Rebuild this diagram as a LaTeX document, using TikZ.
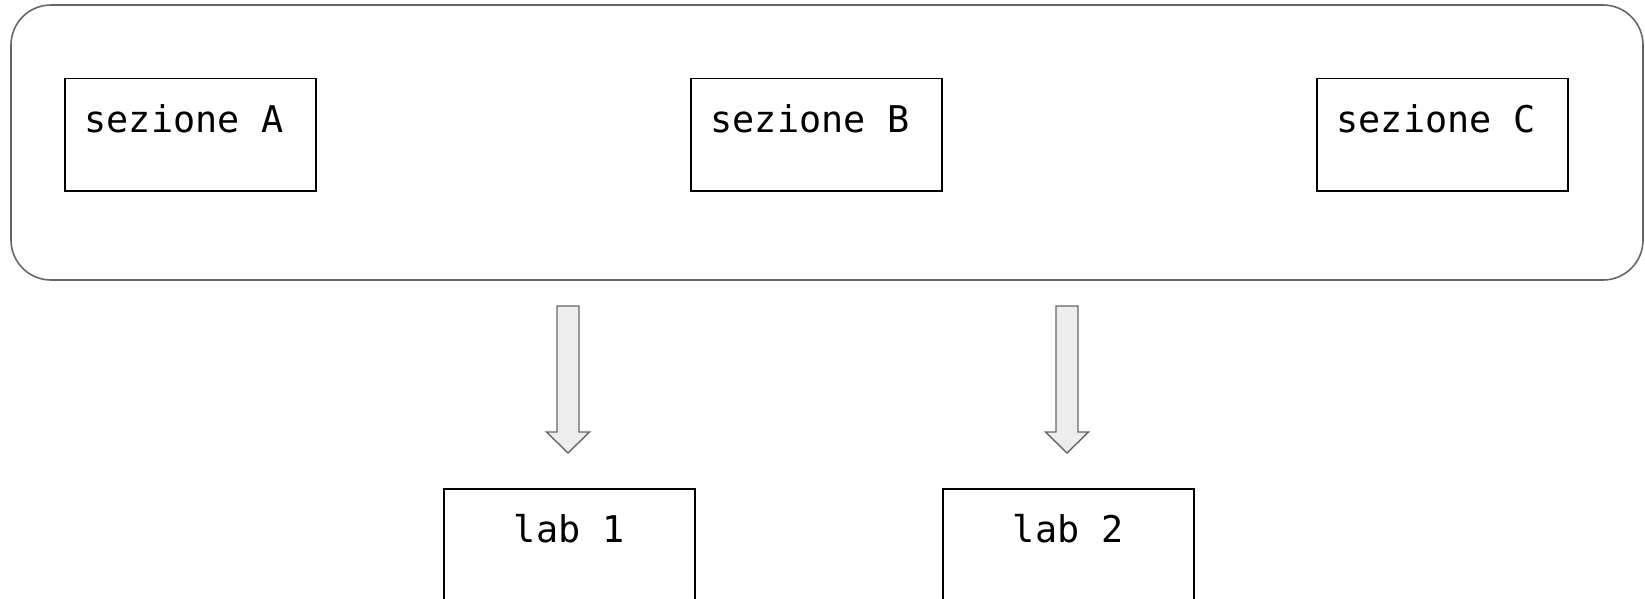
\documentclass[tikz,border=0pt]{standalone}
\usepackage{fontspec}
\newfontfamily\monof{DejaVu Sans Mono}
\begin{document}
\begin{tikzpicture}[x=1pt,y=-1pt,
  box/.style={draw=black,line width=1.5pt,fill=white,minimum width=251pt,minimum height=112pt,inner sep=0pt,anchor=north west},
  lbl/.style={font=\monof\fontsize{36.8}{40}\selectfont,anchor=base,inner sep=0pt,text=black},
  outer/.style={draw=black!60,line width=1.6pt,rounded corners=40pt},
  blockarrow/.style={draw=black!60,fill=black!7,line width=1.4pt,line join=miter}]
\useasboundingbox (0,0) rectangle (1645,599);
\draw[outer] (11,5) rectangle (1643,280);
\node[box] (A) at (64,78) {};
\node[box] (B) at (690,78) {};
\node[box] (C) at (1316,78) {};
\node[lbl] (tA) at ([yshift=-54pt,xshift=-6pt]A.north) {sezione A};
\node[lbl] (tB) at ([yshift=-54pt,xshift=-6pt]B.north) {sezione B};
\node[lbl] (tC) at ([yshift=-54pt,xshift=-6pt]C.north) {sezione C};
\node[box,minimum height=130pt] (L1) at (443,488) {};
\node[box,minimum height=130pt] (L2) at (942,488) {};
\node[lbl] (t1) at ([yshift=-54pt]L1.north) {lab 1};
\node[lbl] (t2) at ([yshift=-54pt]L2.north) {lab 2};
\foreach \n/\cx in {a1/568, a2/1067}{
  \draw[blockarrow] (\cx-11,306) -- (\cx+11,306) -- (\cx+11,432) -- (\cx+21.5,432)
    -- (\cx,453) -- (\cx-21.5,432) -- (\cx-11,432) -- cycle;
}
\end{tikzpicture}
\end{document}
